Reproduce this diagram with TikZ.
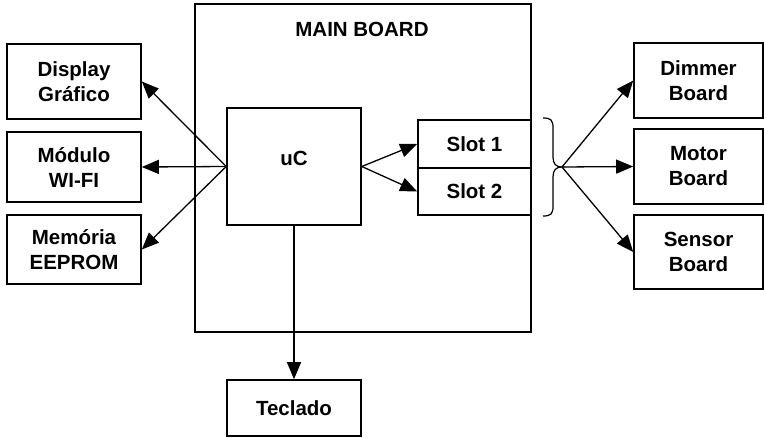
\documentclass[tikz,border=0pt]{standalone}
\usepackage{fontspec}
\setmainfont{Liberation Sans}
\usetikzlibrary{arrows.meta}
\tikzset{
  box/.style={draw, line width=1.6pt, align=center, inner sep=0pt,
    font=\fontsize{20.5}{25}\selectfont\bfseries},
  lbl/.style={inner sep=0pt, font=\fontsize{20.5}{25}\selectfont\bfseries},
  conn/.style={line width=1.3pt, -{Triangle[length=17pt,width=14pt]}},
  bracestyle/.style={line width=1.2pt}
}
\begin{document}
\begin{tikzpicture}[x=1pt,y=-1pt]
\useasboundingbox (0,0) rectangle (764,437);
% main board
\node[box, minimum width=336pt, minimum height=328pt] (main) at (363,168) {};
\node[lbl] (mainlbl) at (362,29) {MAIN BOARD};
% uC
\node[box, minimum width=134pt, minimum height=117pt] (uc) at (294,166.5) {};
\node[lbl] (uclbl) at (294,158) {uC};
% slots
\node[box, minimum width=113pt, minimum height=48pt] (s1) at (474.5,144) {Slot 1};
\node[box, minimum width=113pt, minimum height=47pt] (s2) at (474.5,191.5) {Slot 2};
% left boxes
\node[box, minimum width=134pt, minimum height=75pt] (disp) at (74,81.5) {Display\\Gráfico};
\node[box, minimum width=134pt, minimum height=70.5pt] (wifi) at (74,167) {Módulo\\WI-FI};
\node[box, minimum width=134pt, minimum height=69pt] (mem) at (74,249.5) {Memória\\EEPROM};
% right boxes
\node[box, minimum width=129pt, minimum height=75pt] (dim) at (698.5,80.5) {Dimmer\\Board};
\node[box, minimum width=129pt, minimum height=75pt] (mot) at (698.5,166.5) {Motor\\Board};
\node[box, minimum width=129pt, minimum height=74pt] (sen) at (698.5,252) {Sensor\\Board};
% teclado
\node[box, minimum width=134pt, minimum height=56pt] (tec) at (294,408) {Teclado};
% brace
\coordinate (bt) at (562,167);
\draw[bracestyle] (543,118) .. controls (551,118) and (553,120) .. (553,128)
  -- (553,157) .. controls (553,164) and (556,167) .. (bt)
  .. controls (556,167) and (553,170) .. (553,177)
  -- (553,206) .. controls (553,214) and (551,216) .. (543,216);
% connectors
\draw[conn] (uc.west) -- (disp.east);
\draw[conn] (uc.west) -- (wifi.east);
\draw[conn] (uc.west) -- (mem.east);
\draw[conn] (uc.east) -- (s1.west);
\draw[conn] (uc.east) -- (s2.west);
\draw[conn] (uc.south) -- (tec.north);
\draw[conn] (bt) -- (dim.west);
\draw[conn] (bt) -- (mot.west);
\draw[conn] (bt) -- (sen.west);
\end{tikzpicture}
\end{document}
